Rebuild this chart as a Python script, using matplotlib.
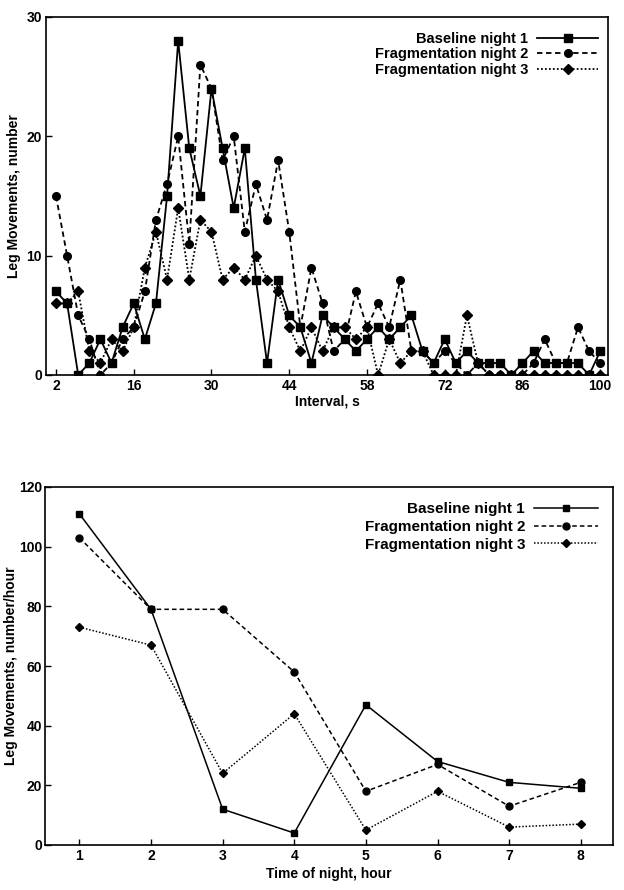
import matplotlib
matplotlib.use("Agg")
import matplotlib.pyplot as plt
import numpy as np

plt.rcParams['font.family'] = ['Liberation Sans', 'DejaVu Sans']
plt.rcParams['font.weight'] = 'bold'

# Top panel: interval histogram of leg movements
interval = np.arange(2, 101, 2)
baseline_1 = [7, 6, 0, 1, 3, 1, 4, 6, 3, 6, 15, 28, 19, 15, 24, 19, 14, 19, 8, 1,
              8, 5, 4, 1, 5, 4, 3, 2, 3, 4, 3, 4, 5, 2, 1, 3, 1, 2, 1, 1,
              1, 0, 1, 2, 1, 1, 1, 1, 0, 2]
frag_2 = [15, 10, 5, 3, 0, 1, 3, 4, 7, 13, 16, 20, 11, 26, 24, 18, 20, 12, 16, 13,
          18, 12, 4, 9, 6, 2, 3, 7, 4, 6, 4, 8, 2, 2, 1, 2, 1, 0, 1, 0,
          0, 0, 0, 1, 3, 1, 1, 4, 2, 1]
frag_3 = [6, 6, 7, 2, 1, 3, 2, 4, 9, 12, 8, 14, 8, 13, 12, 8, 9, 8, 10, 8,
          7, 4, 2, 4, 2, 4, 4, 3, 4, 0, 3, 1, 2, 2, 0, 0, 0, 5, 1, 0,
          0, 0, 0, 0, 0, 0, 0, 0, 0, 0]
interval_ticks = [2, 16, 30, 44, 58, 72, 86, 100]

# Bottom panel: leg movements per hour of night
hours = [1, 2, 3, 4, 5, 6, 7, 8]
hourly_baseline_1 = [111, 79, 12, 4, 47, 28, 21, 19]
hourly_frag_2 = [103, 79, 79, 58, 18, 27, 13, 21]
hourly_frag_3 = [73, 67, 24, 44, 5, 18, 6, 7]

labels = ["Baseline night 1", "Fragmentation night 2", "Fragmentation night 3"]
styles = [dict(linestyle='-', marker='s'),
          dict(linestyle=(0, (3, 2)), marker='o'),
          dict(linestyle=(0, (1, 1.2)), marker='D')]

W, H = 624, 890
fig = plt.figure(figsize=(W / 100, H / 100), dpi=100)

ax1 = fig.add_axes([46 / W, (H - 375) / H, (608 - 46) / W, (375 - 17) / H])
ax2 = fig.add_axes([45 / W, (H - 845) / H, (613 - 45) / W, (845 - 487) / H])


def style_axis(ax):
    for sp in ax.spines.values():
        sp.set_linewidth(1.2)
    ax.tick_params(direction='in', length=4, width=1, labelsize=10, pad=3)
    for lab in ax.get_xticklabels() + ax.get_yticklabels():
        lab.set_fontweight('bold')


for ys, lab, st in zip([baseline_1, frag_2, frag_3], labels, styles):
    ms = 5.5 if st['marker'] != 'D' else 4.8
    ax1.plot(interval, ys, color='black', lw=1.3, markersize=ms, label=lab,
             linestyle=st['linestyle'], marker=st['marker'])
ax1.set_xlim(0.2, 101.4)
ax1.set_ylim(0, 30)
ax1.set_xticks(interval_ticks)
ax1.set_yticks([0, 10, 20, 30])
ax1.set_xlabel("Interval, s", fontsize=10, fontweight='bold', labelpad=1)
ax1.set_ylabel("Leg Movements, number", fontsize=10, fontweight='bold', labelpad=4)
style_axis(ax1)
ax1.legend(loc='upper right', frameon=False, markerfirst=False, handlelength=4.2,
           prop={'weight': 'bold', 'size': 10.5}, labelspacing=0.1,
           borderaxespad=0.0, handletextpad=0.6, bbox_to_anchor=(0.993, 0.975))

for ys, lab, st in zip([hourly_baseline_1, hourly_frag_2, hourly_frag_3], labels, styles):
    ms = 5 if st['marker'] != 'D' else 4.3
    ax2.plot(hours, ys, color='black', lw=1.1, markersize=ms, label=lab,
             linestyle=st['linestyle'], marker=st['marker'])
ax2.set_xlim(0.52, 8.45)
ax2.set_ylim(0, 120)
ax2.set_xticks(hours)
ax2.set_yticks([0, 20, 40, 60, 80, 100, 120])
ax2.set_xlabel("Time of night, hour", fontsize=10, fontweight='bold', labelpad=3)
ax2.set_ylabel("Leg Movements, number/hour", fontsize=10, fontweight='bold', labelpad=1)
style_axis(ax2)
ax2.tick_params(axis='y', pad=2)
ax2.legend(loc='upper right', frameon=False, markerfirst=False, handlelength=4.2,
           prop={'weight': 'bold', 'size': 11}, labelspacing=0.25,
           borderaxespad=0.0, handletextpad=0.6, bbox_to_anchor=(0.985, 0.975))

fig.savefig("out.png", dpi=100, facecolor='white')
